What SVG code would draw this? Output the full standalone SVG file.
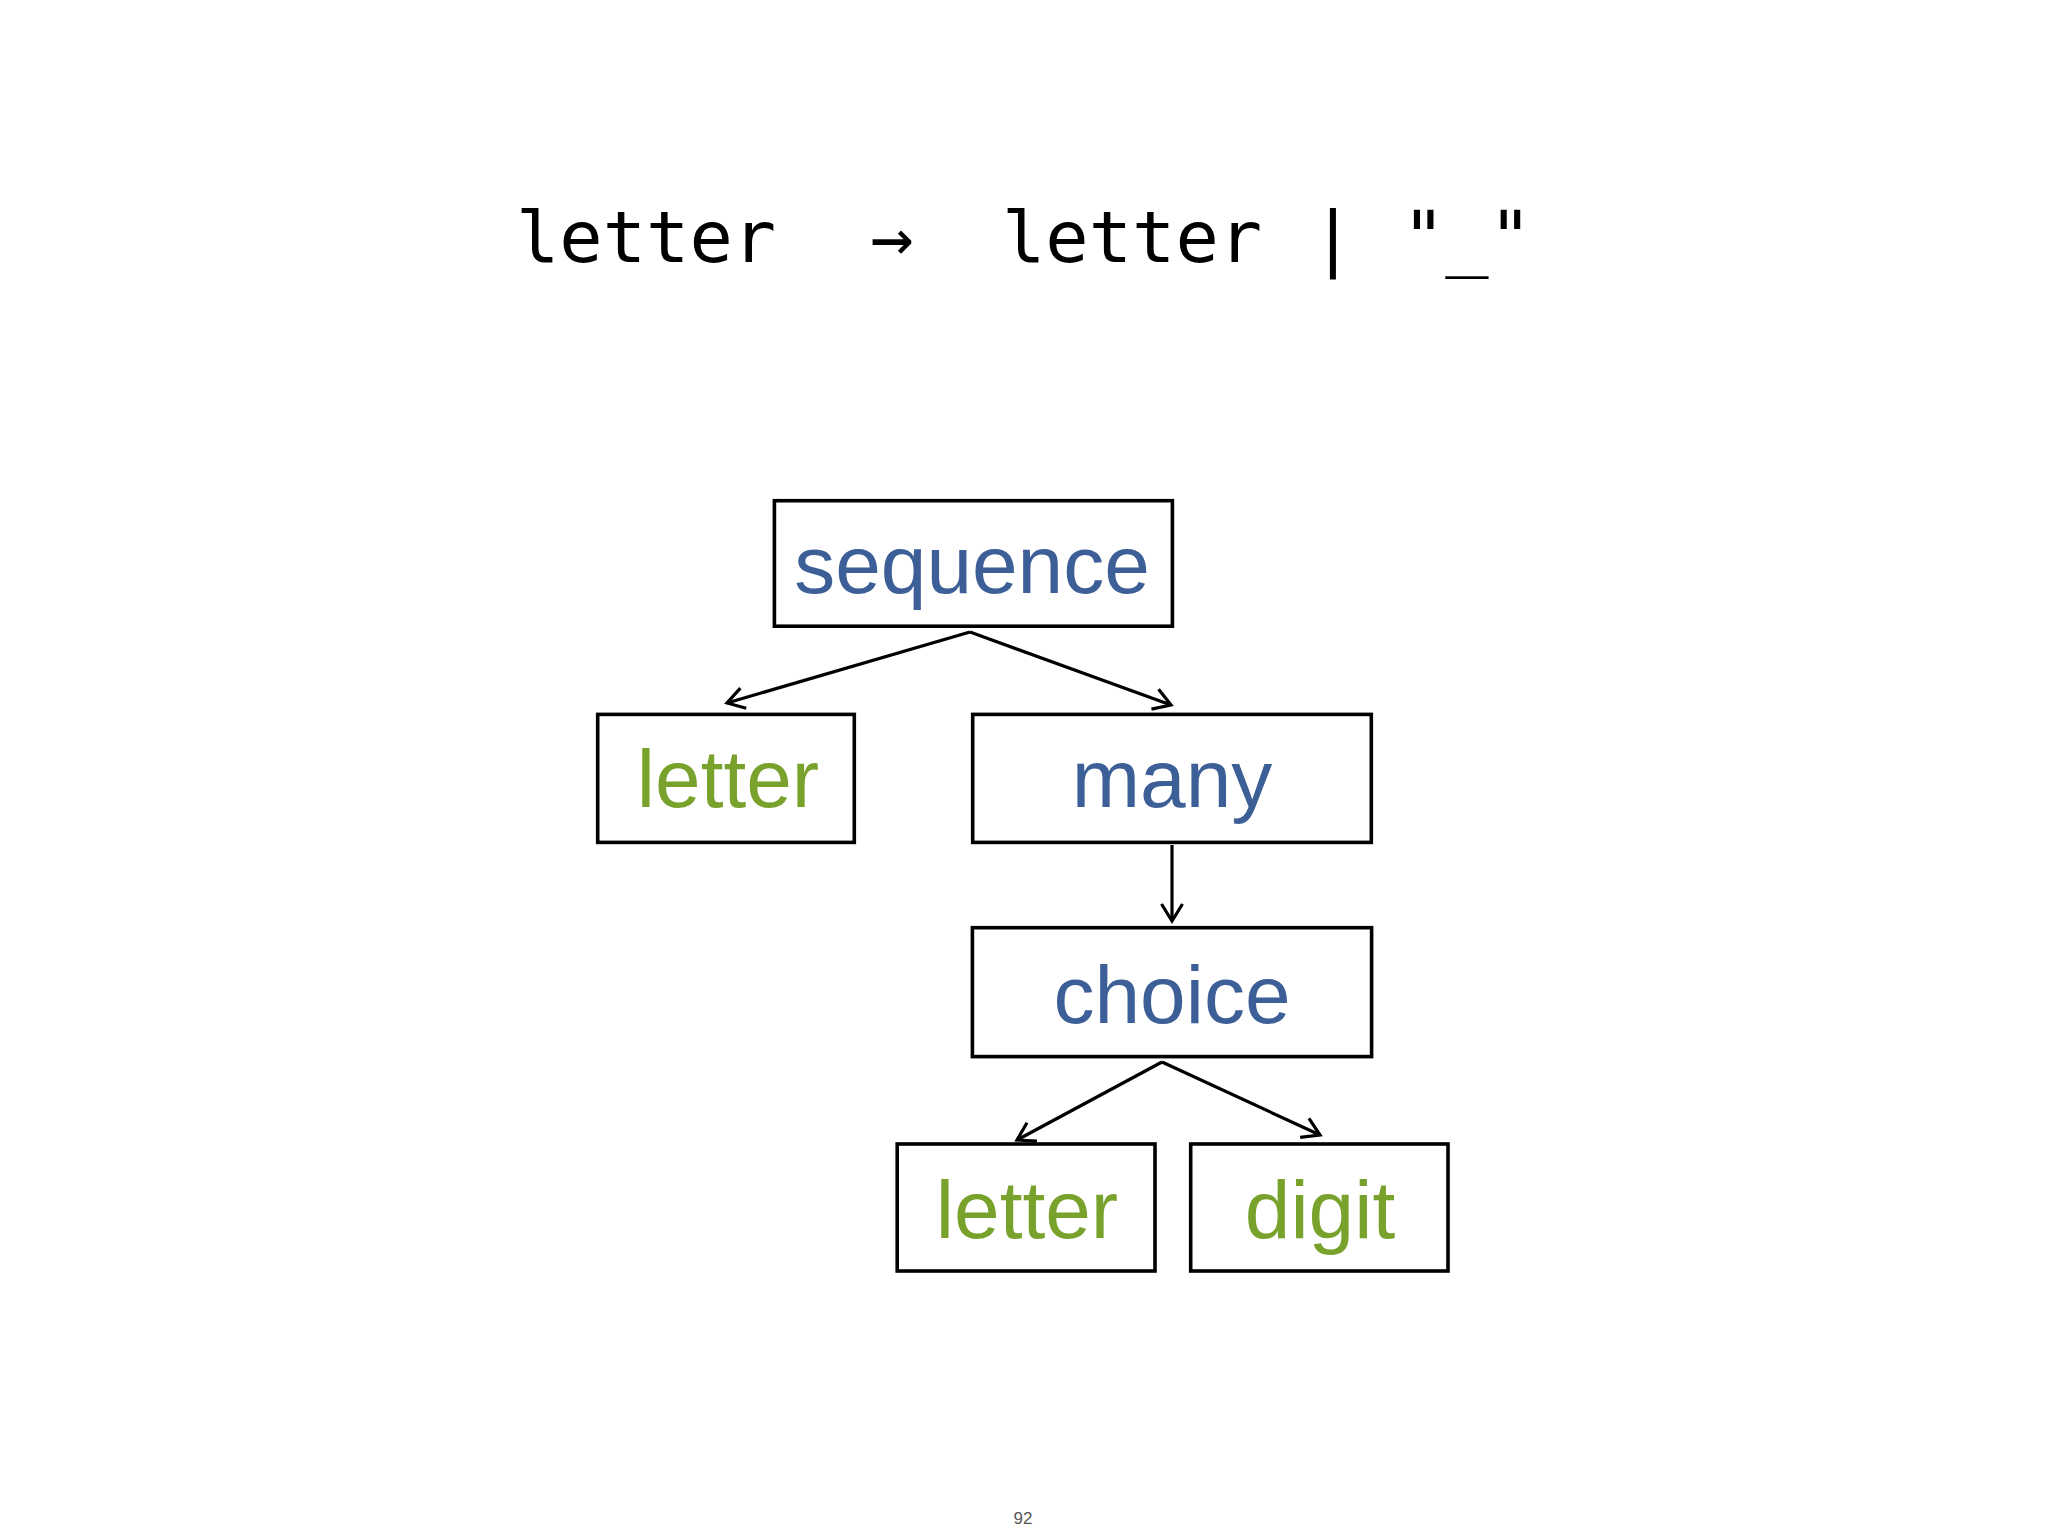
<svg xmlns="http://www.w3.org/2000/svg" width="2048" height="1536" viewBox="0 0 2048 1536">
<style>
.box{fill:none;stroke:#000;stroke-width:3.6}
.lbl{font-family:"Liberation Sans",Arial,sans-serif;font-size:82px;text-anchor:middle}
.blue{fill:#3d5f97}
.green{fill:#78a22c}
.code{font-family:"DejaVu Sans Mono","Liberation Mono",monospace;font-size:72px;fill:#000}
.conn{fill:none;stroke:#000;stroke-width:3.2;marker-end:url(#arr)}
</style>
<defs>
<marker id="arr" markerUnits="userSpaceOnUse" orient="auto" markerWidth="40" markerHeight="40" refX="0" refY="0" viewBox="-20 -20 40 40" overflow="visible">
<path d="M-17,-10.5 L0,0 L-17,10.5" fill="none" stroke="#000" stroke-width="3.2" stroke-linejoin="miter"/>
</marker>
</defs>
<rect width="2048" height="1536" fill="#fff"/>
<g id="title">
<text class="code" x="516" y="262">letter</text>
<text class="code" x="892" y="262" text-anchor="middle">→</text>
<text class="code" x="1002" y="262">letter</text>
<text class="code" x="1333" y="262" text-anchor="middle">|</text>
<text class="code" x="1467" y="262" text-anchor="middle">"_"</text>
</g>
<g id="connectors">
<line class="conn" x1="970" y1="632" x2="727" y2="703"/>
<line class="conn" x1="970" y1="632" x2="1171" y2="705"/>
<line class="conn" x1="1172" y1="845" x2="1172" y2="921"/>
<line class="conn" x1="1162" y1="1062" x2="1017" y2="1140"/>
<line class="conn" x1="1162" y1="1062" x2="1320" y2="1135"/>
</g>
<g id="node-sequence">
<rect class="box" x="774.4" y="500.7" width="398" height="125.5"/>
<text class="lbl blue" x="972" y="593">sequence</text>
</g>
<g id="node-letter1">
<rect class="box" x="597.7" y="714.4" width="256.6" height="128"/>
<text class="lbl green" x="728" y="807">letter</text>
</g>
<g id="node-many">
<rect class="box" x="972.7" y="714.4" width="398.6" height="128"/>
<text class="lbl blue" x="1172" y="807">many</text>
</g>
<g id="node-choice">
<rect class="box" x="972.4" y="927.7" width="399.2" height="128.9"/>
<text class="lbl blue" x="1172" y="1023">choice</text>
</g>
<g id="node-letter2">
<rect class="box" x="897.2" y="1144" width="257.8" height="127"/>
<text class="lbl green" x="1027" y="1238">letter</text>
</g>
<g id="node-digit">
<rect class="box" x="1190.7" y="1144" width="257.3" height="127"/>
<text class="lbl green" x="1320" y="1238">digit</text>
</g>
<text x="1023" y="1524" font-family="'Liberation Sans',Arial,sans-serif" font-size="17" fill="#555" text-anchor="middle">92</text>
</svg>
